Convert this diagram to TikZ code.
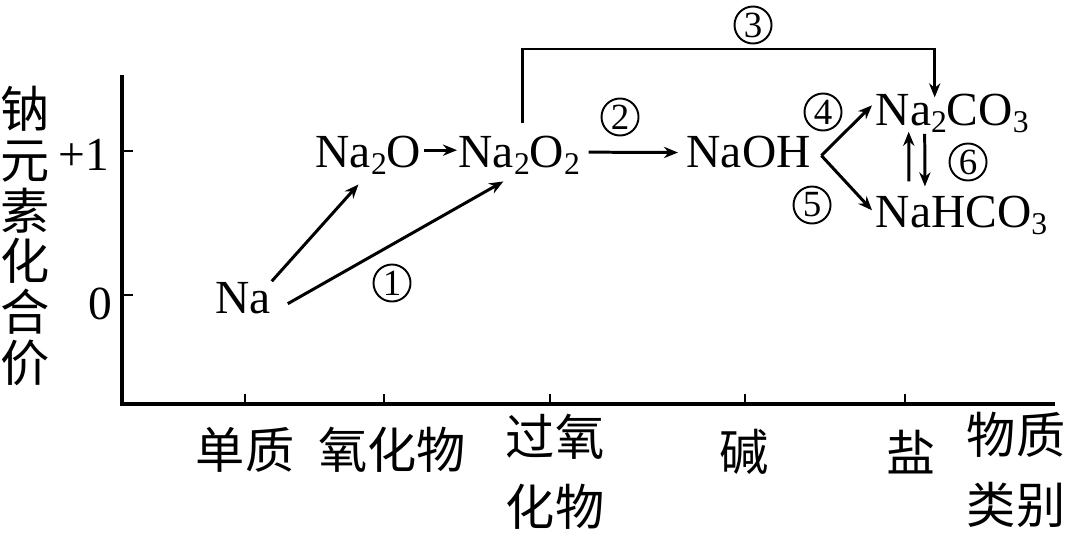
\documentclass[tikz,border=0pt]{standalone}
\usepackage{fontspec}
\setmainfont{Liberation Serif}
\newfontfamily\cjk{Noto Sans CJK SC}
\usetikzlibrary{arrows.meta,calc}
\newcommand{\xsub}[1]{\raisebox{-2.2pt}{\fontsize{9}{9}\selectfont #1}}

\begin{document}
\begin{tikzpicture}[x=0.01cm, y=-0.01cm, font=\fontsize{13.5}{16}\selectfont,
    chem/.style={inner sep=0pt, anchor=base west},
    lbl/.style={font=\cjk\fontsize{14}{19.9}\selectfont, align=center, inner sep=0pt},
    num/.style={circle, draw, line width=0.55pt, minimum size=0.37cm, inner sep=0pt, font=\fontsize{10.5}{10.5}\selectfont},
    arr/.style={line width=0.85pt, -{Stealth[length=4pt,width=3.2pt]}},
    tick/.style={line width=0.55pt}]
        \useasboundingbox (0,0) rectangle (1080,536);

        % Axes
        \coordinate (o) at (122,404);
        \draw[line width=0.9pt] (122,75) -- (o) -- (1055,404);
        \draw[tick] (122,151) -- (133,151);
        \draw[tick] (122,295) -- (133,295);
        \foreach \x in {245,384,550,745,905}
            \draw[tick] (\x,404) -- (\x,394);

        % Axis labels
        \node[lbl, font=\cjk\fontsize{14}{14.4}\selectfont] (ylab) at (25,236) {钠\\元\\素\\化\\合\\价};
        \node[inner sep=0pt] (plus) at (84,155) {+1};
        \node[inner sep=0pt] (zero) at (100,304) {0};
        \node[lbl] (dz) at (245,450) {单质};
        \node[lbl] (yhw) at (392,450) {氧化物};
        \node[lbl] (gyhw) at (555,472) {过氧\\化物};
        \node[lbl] (jian) at (744,452) {碱};
        \node[lbl] (yan) at (911,452) {盐};
        \node[lbl] (wzlb) at (1016,470) {物质\\类别};

        % Substances
        \node[chem] (na) at (215,313) {Na};
        \node[chem] (na2o) at (315,167) {Na\xsub{2}O};
        \node[chem] (na2oo) at (458,167) {Na\xsub{2}O\xsub{2}};
        \node[chem] (naoh) at (686,167) {NaOH};
        \node[chem] (naco) at (875,125) {Na\xsub{2}CO\xsub{3}};
        \node[chem] (nahco) at (875,227) {NaHCO\xsub{3}};

        % Reaction numbers
        \node[num] (n1) at (392,283) {1};
        \node[num] (n2) at (620,117) {2};
        \node[num] (n3) at (753,25) {3};
        \node[num] (n4) at (823,112) {4};
        \node[num] (n5) at (812,205) {5};
        \node[num] (n6) at (968,162) {6};

        % Connections
        \draw[arr] (na.north east) -- ([shift={(-10,9)}]na2o.south);
        \draw[arr] ([shift={(16,6)}]na.east) -- ([shift={(-16,6)}]na2oo.south);
        \draw[arr] ([shift={(2,-5)}]na2o.east) -- ([shift={(-1,-5)}]na2oo.west);
        \draw[arr] ([shift={(8,-3)}]na2oo.east) -- ([shift={(-8,1)}]naoh.west);
        \coordinate (c3) at (753,49);
        \draw[arr] ([shift={(3,-12)}]na2oo.north) |- (c3) -| ([shift={(-17.5,4.5)}]naco.north);
        \coordinate (fork) at ([shift={(10,4)}]naoh.east);
        \draw[arr] (fork) -- ([shift={(-3,-8)}]naco.west);
        \draw[arr] (fork) -- ([shift={(-3,-5)}]nahco.west);
        \draw[arr] ([shift={(-52.5,-13.5)}]nahco.north) -- ([shift={(-43.5,-2)}]naco.south);
        \draw[arr] ([shift={(-27.5,0)}]naco.south) -- ([shift={(-36.5,-8.5)}]nahco.north);

    \end{tikzpicture}
\end{document}
